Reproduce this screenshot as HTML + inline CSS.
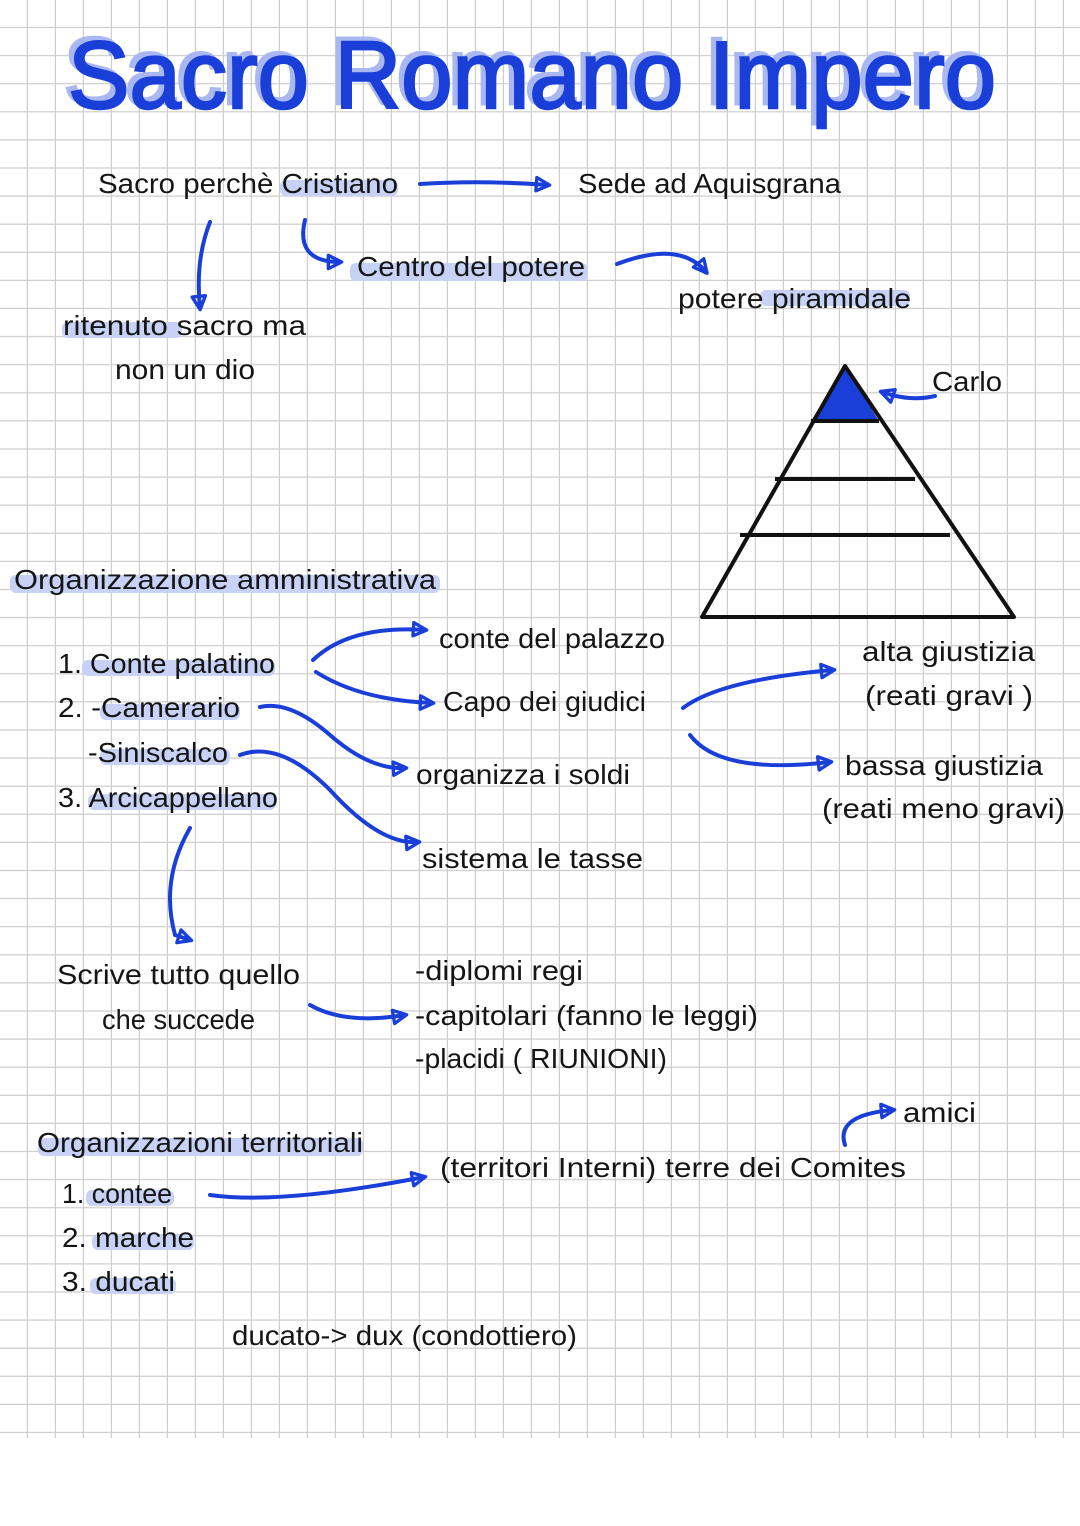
<!DOCTYPE html>
<html><head><meta charset="utf-8"><style>
html,body{margin:0;padding:0;background:#fff;}
svg{display:block;}
text{font-family:"Liberation Sans",sans-serif;fill:#151515;}
</style></head><body>
<svg width="1080" height="1526" viewBox="0 0 1080 1526" xmlns="http://www.w3.org/2000/svg">
<defs>
<pattern id="g" width="28" height="28.1" patternUnits="userSpaceOnUse">
<path d="M28 0V28.1M0 28.1H28" stroke="#cdcdcd" stroke-width="2.4" fill="none"/>
</pattern>
<marker id="a" viewBox="0 0 12 12" refX="9" refY="6" markerWidth="5" markerHeight="5" orient="auto" markerUnits="strokeWidth">
<path d="M2 2L10 6L2 10Z" fill="none" stroke="#1a3fd8" stroke-width="2" stroke-linejoin="round"/>
</marker>
</defs>
<rect x="0" y="0" width="1080" height="1438" fill="url(#g)"/>

<!-- highlights -->
<g fill="#c7d2f6">
<rect x="280" y="180" width="118" height="16" rx="6"/>
<rect x="350" y="263" width="238" height="18" rx="6"/>
<rect x="760" y="290" width="150" height="16" rx="6"/>
<rect x="62" y="322" width="120" height="16" rx="6"/>
<rect x="10" y="575" width="430" height="18" rx="6"/>
<rect x="82" y="660" width="193" height="16" rx="6"/>
<rect x="100" y="704" width="140" height="16" rx="6"/>
<rect x="100" y="749" width="130" height="16" rx="6"/>
<rect x="88" y="794" width="188" height="16" rx="6"/>
<rect x="38" y="1138" width="325" height="18" rx="6"/>
<rect x="86" y="1190" width="88" height="16" rx="6"/>
<rect x="92" y="1234" width="102" height="16" rx="6"/>
<rect x="90" y="1278" width="86" height="16" rx="6"/>
</g>

<!-- title -->
<text x="63" y="104" font-size="96" textLength="928" lengthAdjust="spacingAndGlyphs" style="fill:#a9b8f2;stroke:#a9b8f2;stroke-width:3">Sacro Romano Impero</text>
<text x="68" y="108" font-size="96" textLength="928" lengthAdjust="spacingAndGlyphs" style="fill:#1a3fd8;stroke:#1a3fd8;stroke-width:2.5">Sacro Romano Impero</text>

<g font-size="28">
<text x="98" y="193" textLength="300" lengthAdjust="spacingAndGlyphs">Sacro perchè Cristiano</text>
<text x="578" y="193" textLength="263" lengthAdjust="spacingAndGlyphs">Sede ad Aquisgrana</text>
<text x="357" y="276" textLength="228" lengthAdjust="spacingAndGlyphs">Centro del potere</text>
<text x="678" y="308" textLength="233" lengthAdjust="spacingAndGlyphs">potere piramidale</text>
<text x="63" y="335" textLength="243" lengthAdjust="spacingAndGlyphs">ritenuto sacro ma</text>
<text x="115" y="379" textLength="140" lengthAdjust="spacingAndGlyphs">non un dio</text>
<text x="932" y="391" textLength="70" lengthAdjust="spacingAndGlyphs">Carlo</text>
<text x="14" y="589" textLength="422" lengthAdjust="spacingAndGlyphs">Organizzazione amministrativa</text>
<text x="58" y="673" textLength="217" lengthAdjust="spacingAndGlyphs">1. Conte palatino</text>
<text x="58" y="717" textLength="182" lengthAdjust="spacingAndGlyphs">2. -Camerario</text>
<text x="88" y="762" textLength="140" lengthAdjust="spacingAndGlyphs">-Siniscalco</text>
<text x="58" y="807" textLength="220" lengthAdjust="spacingAndGlyphs">3. Arcicappellano</text>
<text x="439" y="648" textLength="226" lengthAdjust="spacingAndGlyphs">conte del palazzo</text>
<text x="443" y="711" textLength="203" lengthAdjust="spacingAndGlyphs">Capo dei giudici</text>
<text x="416" y="784" textLength="214" lengthAdjust="spacingAndGlyphs">organizza i soldi</text>
<text x="422" y="868" textLength="221" lengthAdjust="spacingAndGlyphs">sistema le tasse</text>
<text x="862" y="661" textLength="173" lengthAdjust="spacingAndGlyphs">alta giustizia</text>
<text x="865" y="705" textLength="168" lengthAdjust="spacingAndGlyphs">(reati gravi )</text>
<text x="845" y="775" textLength="198" lengthAdjust="spacingAndGlyphs">bassa giustizia</text>
<text x="822" y="818" textLength="243" lengthAdjust="spacingAndGlyphs">(reati meno gravi)</text>
<text x="57" y="984" textLength="243" lengthAdjust="spacingAndGlyphs">Scrive tutto quello</text>
<text x="102" y="1029" textLength="153" lengthAdjust="spacingAndGlyphs">che succede</text>
<text x="415" y="980" textLength="168" lengthAdjust="spacingAndGlyphs">-diplomi regi</text>
<text x="415" y="1025" textLength="343" lengthAdjust="spacingAndGlyphs">-capitolari (fanno le leggi)</text>
<text x="415" y="1068" textLength="252" lengthAdjust="spacingAndGlyphs">-placidi ( RIUNIONI)</text>
<text x="903" y="1122" textLength="73" lengthAdjust="spacingAndGlyphs">amici</text>
<text x="37" y="1152" textLength="326" lengthAdjust="spacingAndGlyphs">Organizzazioni territoriali</text>
<text x="440" y="1177" textLength="466" lengthAdjust="spacingAndGlyphs">(territori Interni) terre dei Comites</text>
<text x="62" y="1203" textLength="110" lengthAdjust="spacingAndGlyphs">1. contee</text>
<text x="62" y="1247" textLength="132" lengthAdjust="spacingAndGlyphs">2. marche</text>
<text x="62" y="1291" textLength="113" lengthAdjust="spacingAndGlyphs">3. ducati</text>
<text x="232" y="1345" textLength="345" lengthAdjust="spacingAndGlyphs">ducato-&gt; dux (condottiero)</text>
</g>

<!-- pyramid -->
<polygon points="845,366 811,421 879,421" fill="#1a3fd8"/>
<g stroke="#111" stroke-width="4" fill="none" stroke-linejoin="round">
<polygon points="845,366 702,617 1014,617"/>
<line x1="811" y1="421" x2="879" y2="421"/>
<line x1="775" y1="479" x2="915" y2="479"/>
<line x1="740" y1="535" x2="950" y2="535"/>
</g>

<!-- arrows -->
<g stroke="#1a3fd8" stroke-width="4" fill="none" stroke-linecap="round" marker-end="url(#a)">
<path d="M420 184 Q480 180 548 185"/>
<path d="M210 222 Q195 260 200 308"/>
<path d="M305 220 Q295 262 340 262"/>
<path d="M617 264 Q680 240 706 272"/>
<path d="M935 396 Q910 402 882 392"/>
<path d="M313 660 Q350 625 425 630"/>
<path d="M316 672 Q360 700 432 703"/>
<path d="M260 707 Q290 700 330 735 Q370 770 405 768"/>
<path d="M240 755 Q280 740 330 790 Q380 845 418 842"/>
<path d="M190 828 Q160 880 175 935 L190 940"/>
<path d="M310 1005 Q345 1025 405 1015"/>
<path d="M210 1195 Q280 1205 424 1177"/>
<path d="M683 708 Q720 680 833 670"/>
<path d="M690 735 Q720 775 830 762"/>
<path d="M845 1145 Q835 1115 893 1110"/>
</g>
</svg>
</body></html>
